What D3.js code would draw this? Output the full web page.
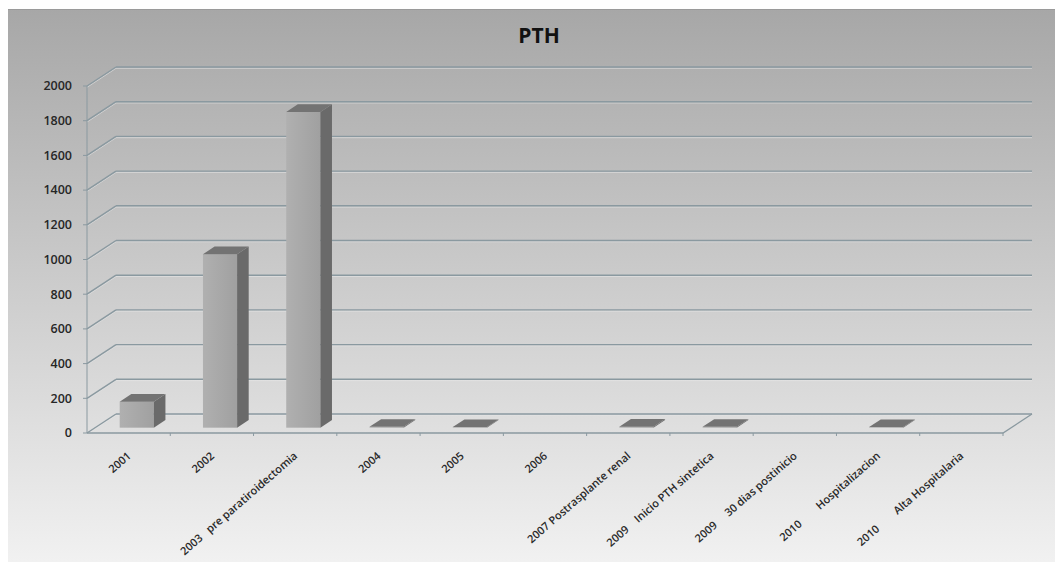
<!DOCTYPE html>
<html>
<head>
<meta charset="utf-8">
<script src="https://cdn.jsdelivr.net/npm/d3@7"></script>
<style>
  body { margin: 0; background: #fff; }
  svg { display: block; }
  text { font-family: "Open Sans", sans-serif; }
</style>
</head>
<body>
<div id="chart"></div>
<script>
// categories as written under the floor (nbsp keeps the wide gaps)
const categories = [
  "2001",
  "2002",
  "2003\u00a0\u00a0\u00a0pre paratiroidectomia",
  "2004",
  "2005",
  "2006",
  "2007 Postrasplante renal",
  "2009\u00a0\u00a0\u00a0\u00a0Inicio PTH sintetica",
  "2009\u00a0\u00a0\u00a0\u00a0\u00a030 dias postinicio",
  "2010\u00a0\u00a0\u00a0\u00a0\u00a0\u00a0\u00a0\u00a0Hospitalizacion",
  "2010\u00a0\u00a0\u00a0\u00a0\u00a0\u00a0\u00a0\u00a0Alta Hospitalaria"
];
// PTH values, null where no bar is drawn
const pthValues = [150, 1000, 1820, 5, 4, null, 6, 5, null, 4, null];
const yTicks = [0, 200, 400, 600, 800, 1000, 1200, 1400, 1600, 1800, 2000];
const title = "PTH";

const width = 1055, height = 562;
const plot = { left: 87, right: 1003, bottom: 433, top: 86 };
const depth = { dx: 29, dy: -19 }; // offset from front plane to back wall

const svg = d3.select("#chart").append("svg")
  .attr("width", width)
  .attr("height", height);

const defs = svg.append("defs");
const bg = defs.append("linearGradient")
  .attr("id", "bgGrad").attr("x1", 0).attr("y1", 0).attr("x2", 0).attr("y2", 1);
bg.append("stop").attr("offset", "0%").attr("stop-color", "#a7a7a7");
bg.append("stop").attr("offset", "100%").attr("stop-color", "#f1f1f1");

const front = defs.append("linearGradient")
  .attr("id", "frontGrad").attr("x1", 0).attr("y1", 0).attr("x2", 1).attr("y2", 0);
front.append("stop").attr("offset", "0%").attr("stop-color", "#b0b0b0");
front.append("stop").attr("offset", "100%").attr("stop-color", "#a0a0a0");

// panel background
svg.append("rect")
  .attr("x", 8).attr("y", 9)
  .attr("width", width - 8).attr("height", height - 9)
  .attr("fill", "url(#bgGrad)");
svg.append("line")
  .attr("x1", 8).attr("x2", width).attr("y1", 9.5).attr("y2", 9.5)
  .attr("stroke", "#9a9a9a");

const x = d3.scaleBand().domain(categories).range([plot.left, plot.right]);
const y = d3.scaleLinear().domain([0, 2000]).range([plot.bottom, plot.top]);

const grid = svg.append("g").attr("class", "grid");
const gridColor = "#8a99a0";

// wall gridlines: left wall diagonal + back wall horizontal
yTicks.forEach(t => {
  const yy = y(t);
  grid.append("line")
    .attr("x1", plot.left).attr("y1", yy + 1.3)
    .attr("x2", plot.left + depth.dx).attr("y2", yy + depth.dy + 1.3)
    .attr("stroke", "#e6e6e6").attr("stroke-opacity", 0.6);
  grid.append("line")
    .attr("x1", plot.left + depth.dx).attr("y1", yy + depth.dy + 1.3)
    .attr("x2", plot.right + depth.dx).attr("y2", yy + depth.dy + 1.3)
    .attr("stroke", "#e6e6e6").attr("stroke-opacity", 0.6);
  grid.append("line")
    .attr("x1", plot.left).attr("y1", yy)
    .attr("x2", plot.left + depth.dx).attr("y2", yy + depth.dy)
    .attr("stroke", gridColor).attr("stroke-width", 1.4);
  grid.append("line")
    .attr("x1", plot.left + depth.dx).attr("y1", yy + depth.dy)
    .attr("x2", plot.right + depth.dx).attr("y2", yy + depth.dy)
    .attr("stroke", gridColor).attr("stroke-width", 1.4);
});

// floor outline
const y0 = y(0);
grid.append("path")
  .attr("d", `M${plot.left},${y0}L${plot.right},${y0}L${plot.right + depth.dx},${y0 + depth.dy}`)
  .attr("fill", "none")
  .attr("stroke", gridColor).attr("stroke-width", 1.3);

// vertical axis line + ticks
grid.append("line")
  .attr("x1", plot.left).attr("x2", plot.left)
  .attr("y1", y(2000)).attr("y2", y0)
  .attr("stroke", gridColor).attr("stroke-width", 1);
grid.selectAll(".ytick")
  .data(yTicks)
  .enter().append("line")
  .attr("x1", plot.left - 4).attr("x2", plot.left)
  .attr("y1", d => y(d)).attr("y2", d => y(d))
  .attr("stroke", gridColor);

// category tick marks on the floor edge
grid.selectAll(".xtick")
  .data(categories)
  .enter().append("line")
  .attr("x1", (d, i) => plot.left + x.step() * (i + 1))
  .attr("x2", (d, i) => plot.left + x.step() * (i + 1))
  .attr("y1", y0).attr("y2", y0 + 3)
  .attr("stroke", gridColor);

// 3d bars
const barW = x.bandwidth() * 0.41;
const f = 0.28, d = 0.4; // front position and thickness as share of depth
const bdx = depth.dx * d, bdy = depth.dy * d;

const bars = svg.append("g").attr("class", "bars")
  .selectAll("g")
  .data(categories.map((c, i) => ({ cat: c, v: pthValues[i] })).filter(e => e.v != null))
  .enter().append("g");

bars.each(function (e) {
  const g = d3.select(this);
  const fx = x(e.cat) + x.bandwidth() / 2 - barW / 2 + depth.dx * f;
  const bot = y(0) + depth.dy * f;
  const top = y(e.v) + depth.dy * f;
  g.append("rect")
    .attr("x", fx).attr("y", top)
    .attr("width", barW).attr("height", bot - top)
    .attr("fill", "url(#frontGrad)");
  g.append("path")
    .attr("d", `M${fx + barW},${top}L${fx + barW + bdx},${top + bdy}L${fx + barW + bdx},${bot + bdy}L${fx + barW},${bot}Z`)
    .attr("fill", "#6a6a6a");
  g.append("path")
    .attr("d", `M${fx},${top}L${fx + bdx},${top + bdy}L${fx + barW + bdx},${top + bdy}L${fx + barW},${top}Z`)
    .attr("fill", "#737373");
});

// y labels
svg.append("g")
  .selectAll("text")
  .data(yTicks)
  .enter().append("text")
  .attr("x", 72)
  .attr("y", d => y(d))
  .attr("dy", "0.35em")
  .attr("text-anchor", "end")
  .attr("font-size", 12.5)
  .attr("font-weight", 600)
  .attr("fill", "#262626")
  .text(d => d);

// category labels, rotated
svg.append("g")
  .selectAll("text")
  .data(categories)
  .enter().append("text")
  .attr("transform", c => `translate(${x(c) + x.bandwidth() / 2 + 3},457) rotate(-41)`)
  .attr("text-anchor", "end")
  .attr("font-size", 11)
  .attr("font-weight", 600)
  .attr("fill", "#2a2a2a")
  .text(c => c);

// title
svg.append("text")
  .attr("x", 539)
  .attr("y", 43)
  .attr("text-anchor", "middle")
  .attr("font-size", 21)
  .attr("font-weight", 700)
  .attr("fill", "#111")
  .text(title);
</script>
</body>
</html>
